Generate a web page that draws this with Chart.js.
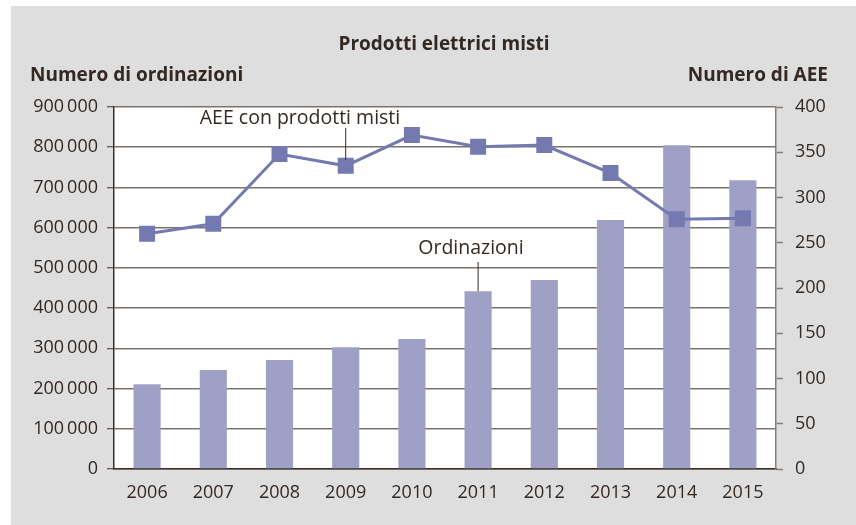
<!DOCTYPE html>
<html>
<head>
<meta charset="utf-8">
<script src="https://cdn.jsdelivr.net/npm/chart.js@4.4.1/dist/chart.umd.min.js"></script>
<style>
  html, body { margin: 0; padding: 0; background: #fff; }
  #wrap { position: absolute; left: 0; top: 0; width: 856px; height: 525px; }
</style>
</head>
<body>
<div id="wrap"><canvas id="chart" width="856" height="525"></canvas></div>
<script>
// Years on the category axis
const years = ['2006', '2007', '2008', '2009', '2010', '2011', '2012', '2013', '2014', '2015'];
// Numero di ordinazioni (bars, left axis)
const ordinazioni = [211000, 246000, 271000, 303000, 323000, 442000, 470000, 619000, 805000, 718000];
// Numero di AEE con prodotti misti (line, right axis)
const aeeMisti = [260, 271, 348, 335, 369, 356, 358, 327, 276, 277];

const textColor = '#33282299'.slice(0, 7);
const fontFamily = '"Open Sans", "Noto Sans", sans-serif';

// thin space as thousands separator, like the print version
function fmtThousands(v) {
    return String(v).replace(/\B(?=(\d{3})+(?!\d))/g, '\u2009');
}

// grey panel, white plot area, headings and the two callouts
const decorPlugin = {
    id: 'decor',
    beforeDraw(chart) {
        const { ctx, chartArea: a } = chart;
        ctx.save();
        ctx.fillStyle = '#dedede';
        ctx.fillRect(11, 6, 845, 519);
        ctx.fillStyle = '#ffffff';
        ctx.fillRect(a.left, a.top, a.right - a.left, a.bottom - a.top);
        ctx.restore();
    },
    afterDraw(chart) {
        const { ctx, scales } = chart;
        ctx.save();
        ctx.fillStyle = textColor;
        ctx.textBaseline = 'middle';

        ctx.font = 'bold 19px ' + fontFamily;
        ctx.textAlign = 'center';
        ctx.fillText('Prodotti elettrici misti', 444, 45);
        ctx.textAlign = 'left';
        ctx.fillText('Numero di ordinazioni', 30, 76);
        ctx.textAlign = 'right';
        ctx.fillText('Numero di AEE', 828, 76);

        // callouts
        ctx.font = '19.5px ' + fontFamily;
        ctx.textAlign = 'center';
        ctx.strokeStyle = textColor;
        ctx.lineWidth = 1;

        const xLine = scales.x.getPixelForValue(3);
        const yLine = scales.y1.getPixelForValue(aeeMisti[3]);
        ctx.fillText('AEE con prodotti misti', 300, 118);
        ctx.beginPath();
        ctx.moveTo(xLine, 128);
        ctx.lineTo(xLine, yLine - 6);
        ctx.stroke();

        const xBar = scales.x.getPixelForValue(5);
        const yBar = scales.y.getPixelForValue(ordinazioni[5]);
        ctx.fillText('Ordinazioni', 471, 248);
        ctx.beginPath();
        ctx.moveTo(xBar, 262);
        ctx.lineTo(xBar, yBar);
        ctx.stroke();

        ctx.restore();
    }
};

const ctx = document.getElementById('chart').getContext('2d');
new Chart(ctx, {
    data: {
        labels: years,
        datasets: [
            {
                type: 'line',
                label: 'AEE con prodotti misti',
                data: aeeMisti,
                yAxisID: 'y1',
                borderColor: '#7479b0',
                borderWidth: 3,
                pointStyle: 'rect',
                pointRadius: 11.3,
                pointBorderWidth: 0,
                pointBackgroundColor: '#7479b0',
                tension: 0,
                order: 0
            },
            {
                type: 'bar',
                label: 'Ordinazioni',
                data: ordinazioni,
                yAxisID: 'y',
                backgroundColor: '#9fa0c6',
                categoryPercentage: 1,
                barPercentage: 0.41,
                order: 1
            }
        ]
    },
    options: {
        responsive: false,
        animation: false,
        layout: { padding: { left: 11, top: 107, right: 0, bottom: 0 } },
        plugins: {
            legend: { display: false },
            tooltip: { enabled: false }
        },
        scales: {
            x: {
                grid: { display: false, drawTicks: false },
                border: { display: true, color: '#3b2f2a', width: 1.5 },
                ticks: {
                    color: textColor,
                    font: { family: fontFamily, size: 18 },
                    padding: 13,
                    maxRotation: 0
                },
                afterFit(scale) { scale.height = 56; }
            },
            y: {
                position: 'left',
                min: 0,
                max: 900000,
                grid: {
                    color: '#7a726d',
                    lineWidth: 1.5,
                    tickLength: 7,
                    tickColor: '#3b2f2a',
                    tickWidth: 1
                },
                border: { display: true, color: '#3b2f2a', width: 1.5 },
                ticks: {
                    stepSize: 100000,
                    color: textColor,
                    font: { family: fontFamily, size: 18 },
                    padding: 9,
                    callback: v => fmtThousands(v)
                },
                afterFit(scale) { scale.width = 103; }
            },
            y1: {
                position: 'right',
                min: 0,
                max: 400,
                grid: {
                    drawOnChartArea: false,
                    tickLength: 7,
                    tickColor: '#857f7a',
                    tickWidth: 1.5
                },
                border: { display: true, color: '#857f7a', width: 1.5 },
                ticks: {
                    stepSize: 50,
                    color: textColor,
                    font: { family: fontFamily, size: 18 },
                    padding: 12
                },
                afterFit(scale) { scale.width = 80; }
            }
        }
    },
    plugins: [decorPlugin]
});
</script>
</body>
</html>
